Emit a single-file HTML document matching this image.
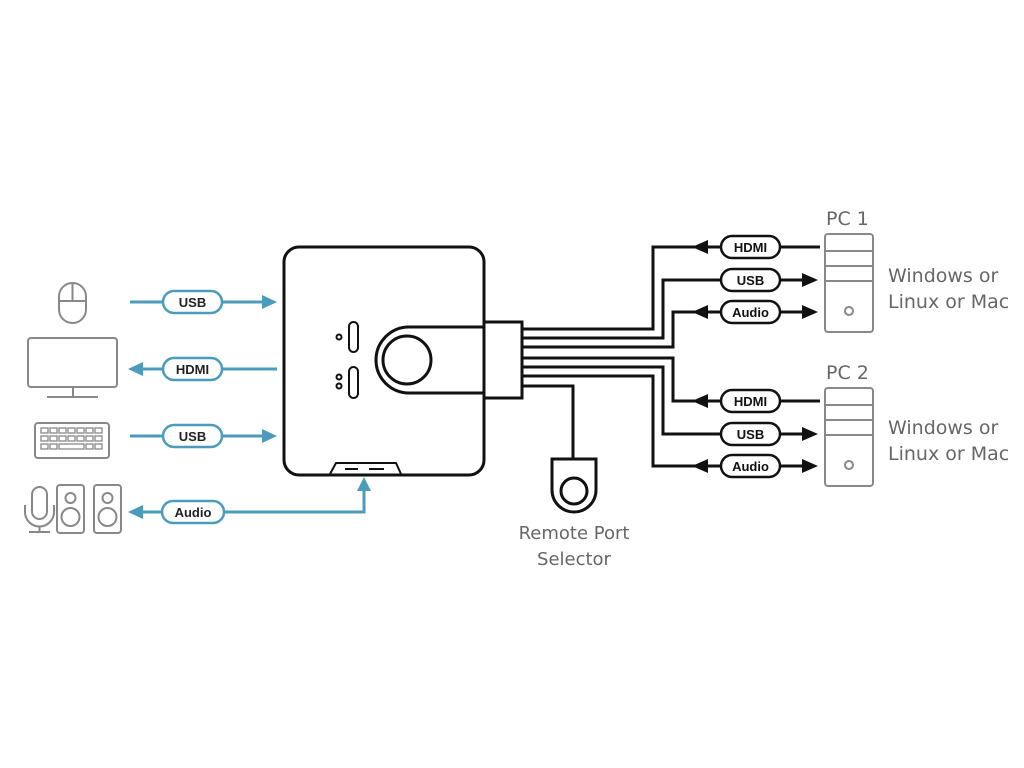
<!DOCTYPE html>
<html><head><meta charset="utf-8"><style>
html,body{margin:0;padding:0;background:#fff;}
svg{display:block;}
.pl{font-family:"Liberation Sans",sans-serif;font-weight:bold;font-size:13px;text-anchor:middle;}
.gt{font-family:"DejaVu Sans","Liberation Sans",sans-serif;fill:#666;}
</style></head><body>
<svg width="1024" height="768" viewBox="0 0 1024 768" xmlns="http://www.w3.org/2000/svg">
<rect width="1024" height="768" fill="#fff"/>
<!-- left icons -->
<g fill="none" stroke="#888" stroke-width="2">
  <rect x="59" y="283" width="27" height="40" rx="13.5"/>
  <line x1="59" y1="301" x2="86" y2="301"/><line x1="72.5" y1="283" x2="72.5" y2="301"/>
  <rect x="28" y="338" width="89" height="49" rx="3"/>
  <line x1="73" y1="387" x2="73" y2="397"/><line x1="47" y1="397" x2="98" y2="397"/>
  <rect x="35" y="423" width="74" height="35" rx="3"/>
  <g stroke-width="1.3">
    <rect x="41" y="428" width="7" height="5"/><rect x="50" y="428" width="7" height="5"/><rect x="59" y="428" width="7" height="5"/><rect x="68" y="428" width="7" height="5"/><rect x="77" y="428" width="7" height="5"/><rect x="86" y="428" width="7" height="5"/><rect x="95" y="428" width="7" height="5"/>
    <rect x="41" y="436" width="7" height="5"/><rect x="50" y="436" width="7" height="5"/><rect x="59" y="436" width="7" height="5"/><rect x="68" y="436" width="7" height="5"/><rect x="77" y="436" width="7" height="5"/><rect x="86" y="436" width="7" height="5"/><rect x="95" y="436" width="7" height="5"/>
    <rect x="41" y="444" width="7" height="5"/><rect x="50" y="444" width="7" height="5"/><rect x="59" y="444" width="25" height="5"/><rect x="86" y="444" width="7" height="5"/><rect x="95" y="444" width="7" height="5"/>
  </g>
  <rect x="32" y="487" width="15" height="32" rx="7.5"/>
  <path d="M25 505 v7 a14.5 14.5 0 0 0 29 0 v-7"/>
  <line x1="39.5" y1="526" x2="39.5" y2="532"/><line x1="29" y1="532" x2="50" y2="532"/>
  <rect x="57" y="485" width="27" height="48" rx="3"/>
  <circle cx="70.5" cy="498" r="5"/><circle cx="70.5" cy="517" r="9"/>
  <rect x="94" y="485" width="27" height="48" rx="3"/>
  <circle cx="107.5" cy="498" r="5"/><circle cx="107.5" cy="517" r="9"/>
</g>
<!-- blue connectors -->
<g stroke="#4b9bbd" stroke-width="3" fill="none">
  <line x1="130" y1="302" x2="265" y2="302"/>
  <line x1="140" y1="369" x2="277" y2="369"/>
  <line x1="130" y1="436" x2="265" y2="436"/>
  <polyline points="142,512 364,512 364,490"/>
</g>
<g fill="#4b9bbd">
  <polygon points="277,302 262,295 262,309"/>
  <polygon points="128,369 143,362 143,376"/>
  <polygon points="277,436 262,429 262,443"/>
  <polygon points="128,512 143,505 143,519"/>
  <polygon points="364,477 357,491 371,491"/>
</g>
<g stroke="#4b9bbd" stroke-width="2.5" fill="#fff">
  <rect x="163" y="291" width="59" height="22" rx="11"/>
  <rect x="163" y="358" width="59" height="22" rx="11"/>
  <rect x="163" y="425" width="59" height="22" rx="11"/>
  <rect x="162" y="501" width="62" height="22" rx="11"/>
</g>
<g class="pl" fill="#222">
  <text x="192.5" y="307">USB</text><text x="192.5" y="374">HDMI</text><text x="192.5" y="441">USB</text><text x="193" y="517">Audio</text>
</g>
<!-- KVM box -->
<g stroke="#111" stroke-width="3" fill="none">
  <rect x="284" y="247" width="200" height="228" rx="15" fill="#fff"/>
  <path d="M484 327 H409 a33 33 0 0 0 0 66 H484"/>
  <circle cx="407" cy="360" r="24"/>
  <rect x="484" y="322" width="38" height="76" fill="#fff"/>
</g>
<g stroke="#111" stroke-width="2" fill="none">
  <rect x="349" y="322" width="9" height="30" rx="4.5"/>
  <rect x="349" y="367" width="9" height="31" rx="4.5"/>
  <circle cx="339" cy="337" r="2.5"/><circle cx="339" cy="377" r="2.5"/><circle cx="339" cy="386" r="2.5"/>
  <path d="M330 474 L336 463 H396 L401 474"/>
  <line x1="345" y1="469" x2="358" y2="469"/><line x1="369" y1="469" x2="384" y2="469"/>
</g>
<!-- black cables -->
<g stroke="#111" stroke-width="3" fill="none">
  <polyline points="522,329 653,329 653,247 820,247"/>
  <polyline points="522,338 663,338 663,280 805,280"/>
  <polyline points="522,347 673,347 673,312 700,312"/>
  <line x1="700" y1="312" x2="805" y2="312"/>
  <polyline points="522,358 673,358 673,401 820,401"/>
  <polyline points="522,367 663,367 663,434 805,434"/>
  <polyline points="522,376 653,376 653,466 805,466"/>
  <polyline points="522,386 573,386 573,460"/>
</g>
<g fill="#111">
  <polygon points="692,247 708,240 708,254"/>
  <polygon points="818,280 802,273 802,287"/>
  <polygon points="692,312 708,305 708,319"/>
  <polygon points="818,312 802,305 802,319"/>
  <polygon points="692,401 708,394 708,408"/>
  <polygon points="818,434 802,427 802,441"/>
  <polygon points="692,466 708,459 708,473"/>
  <polygon points="818,466 802,459 802,473"/>
</g>
<g stroke="#111" stroke-width="2.5" fill="#fff">
  <rect x="721" y="236" width="59" height="22" rx="11"/>
  <rect x="721" y="269" width="59" height="22" rx="11"/>
  <rect x="721" y="301" width="59" height="22" rx="11"/>
  <rect x="721" y="390" width="59" height="22" rx="11"/>
  <rect x="721" y="423" width="59" height="22" rx="11"/>
  <rect x="721" y="455" width="59" height="22" rx="11"/>
</g>
<g class="pl" fill="#111">
  <text x="750.5" y="252">HDMI</text><text x="750.5" y="285">USB</text><text x="750.5" y="317">Audio</text>
  <text x="750.5" y="406">HDMI</text><text x="750.5" y="439">USB</text><text x="750.5" y="471">Audio</text>
</g>
<!-- remote selector -->
<g stroke="#111" stroke-width="3" fill="none">
  <path d="M552 459 H596 V490 a22 22 0 0 1 -44 0 Z" fill="#fff"/>
  <circle cx="574" cy="491" r="13"/>
</g>
<g class="gt" font-size="18" text-anchor="middle">
  <text x="574" y="539">Remote Port</text><text x="574" y="565">Selector</text>
</g>
<!-- PCs -->
<g stroke="#888" stroke-width="2" fill="none">
  <rect x="825" y="234" width="48" height="98" rx="3"/>
  <line x1="825" y1="251" x2="873" y2="251"/><line x1="825" y1="266" x2="873" y2="266"/><line x1="825" y1="281" x2="873" y2="281"/>
  <circle cx="849" cy="311" r="4"/>
  <rect x="825" y="388" width="48" height="98" rx="3"/>
  <line x1="825" y1="405" x2="873" y2="405"/><line x1="825" y1="420" x2="873" y2="420"/><line x1="825" y1="435" x2="873" y2="435"/>
  <circle cx="849" cy="465" r="4"/>
</g>
<g class="gt" font-size="19">
  <text x="826" y="225">PC 1</text><text x="826" y="379">PC 2</text>
  <text x="888" y="282">Windows or</text><text x="888" y="308">Linux or Mac</text>
  <text x="888" y="434">Windows or</text><text x="888" y="460">Linux or Mac</text>
</g>
</svg>
</body></html>
